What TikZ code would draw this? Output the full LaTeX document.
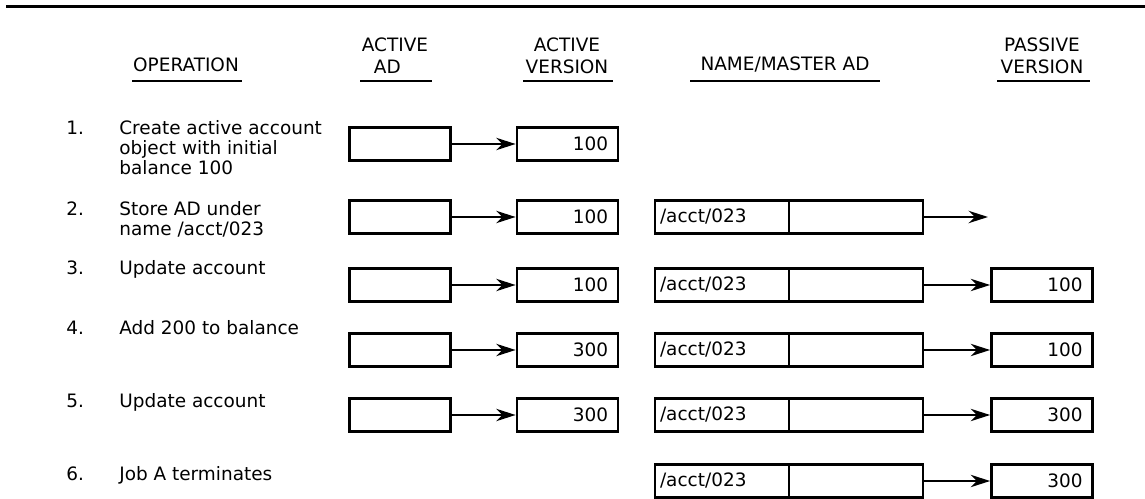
\documentclass[tikz,border=0pt]{standalone}
\usepackage{fontspec}
\setmainfont{DejaVu Sans}
\usetikzlibrary{positioning,arrows.meta}

\begin{document}
\begin{tikzpicture}[
    x=0.02cm, y=-0.02cm,
    txt/.style={font=\fontsize{10.5}{11.4}\selectfont},
    hdr/.style={font=\fontsize{10.5}{12.5}\selectfont, align=center, inner sep=0pt},
    oplab/.style={txt, anchor=north west, align=left, inner sep=0pt},
    adbox/.style={draw, line width=1.6pt, minimum width=2.02cm, minimum height=0.66cm, inner sep=0pt},
    verbox/.style={adbox, txt, text width=1.62cm, align=right, inner xsep=0.2cm},
    namebox/.style={adbox, txt, minimum width=2.68cm, text width=2.48cm, align=left, inner xsep=0.1cm, outer xsep=0pt},
    mastbox/.style={adbox, minimum width=2.68cm, anchor=west, outer xsep=0pt},
    arrow/.style={-{Stealth[length=11pt, width=7pt, inset=3.5pt]}, line width=1.4pt},
    uline/.style={line width=1.2pt},
]
\useasboundingbox (0,0) rectangle (1145,499);

% top rule
\draw[line width=1.7pt] (6,7) -- (1145,7);

% column headings
\node[hdr] (hop) at (186,65) {OPERATION};
\node[hdr, align=left] (hact) at (395,56) {ACTIVE\\\hspace{0.24cm}AD};
\node[hdr] (hver) at (567,56) {ACTIVE\\VERSION};
\node[hdr] (hname) at (785,65) {NAME/MASTER AD};
\node[hdr] (hpas) at (1042,56) {PASSIVE\\VERSION};
\draw[uline] (132,81) -- (242,81);
\draw[uline] (360,81) -- (432,81);
\draw[uline] (523,81) -- (613,81);
\draw[uline] (690,81) -- (880,81);
\draw[uline] (997,81) -- (1090,81);

% row 1
\node[oplab] (n1) at (66,120.5) {1.};
\node[oplab] (o1) at (119,120.5) {Create active account\\object with initial\\balance 100};
\node[adbox] (a1) at (400,144) {};
\node[verbox] (v1) at (567.5,144) {100};
\draw[arrow] (a1) -- (v1);

% row 2
\node[oplab] (n2) at (66,201.5) {2.};
\node[oplab] (o2) at (119,201.5) {Store AD under\\name /acct/023};
\node[adbox] (a2) at (400,217) {};
\node[verbox] (v2) at (567.5,217) {100};
\node[namebox] (m2) at (722,217) {/acct/023};
\node[mastbox] (d2) at (m2.east) {};
\coordinate (p2) at (988,217);
\draw[arrow] (a2) -- (v2);
\draw[arrow] (d2) -- (p2);

% row 3
\node[oplab] (n3) at (66,260.5) {3.};
\node[oplab] (o3) at (119,260.5) {Update account};
\node[adbox] (a3) at (400,285) {};
\node[verbox] (v3) at (567.5,285) {100};
\node[namebox] (m3) at (722,285) {/acct/023};
\node[mastbox] (d3) at (m3.east) {};
\node[verbox] (p3) at (1042,285) {100};
\draw[arrow] (a3) -- (v3);
\draw[arrow] (d3) -- (p3);

% row 4
\node[oplab] (n4) at (66,320.5) {4.};
\node[oplab] (o4) at (119,320.5) {Add 200 to balance};
\node[adbox] (a4) at (400,350) {};
\node[verbox] (v4) at (567.5,350) {300};
\node[namebox] (m4) at (722,350) {/acct/023};
\node[mastbox] (d4) at (m4.east) {};
\node[verbox] (p4) at (1042,350) {100};
\draw[arrow] (a4) -- (v4);
\draw[arrow] (d4) -- (p4);

% row 5
\node[oplab] (n5) at (66,393.5) {5.};
\node[oplab] (o5) at (119,393.5) {Update account};
\node[adbox] (a5) at (400,415) {};
\node[verbox] (v5) at (567.5,415) {300};
\node[namebox] (m5) at (722,415) {/acct/023};
\node[mastbox] (d5) at (m5.east) {};
\node[verbox] (p5) at (1042,415) {300};
\draw[arrow] (a5) -- (v5);
\draw[arrow] (d5) -- (p5);

% row 6
\node[oplab] (n6) at (66,466.5) {6.};
\node[oplab] (o6) at (119,466.5) {Job A terminates};
\node[namebox] (m6) at (722,481) {/acct/023};
\node[mastbox] (d6) at (m6.east) {};
\node[verbox] (p6) at (1042,481) {300};
\draw[arrow] (d6) -- (p6);
\end{tikzpicture}
\end{document}
